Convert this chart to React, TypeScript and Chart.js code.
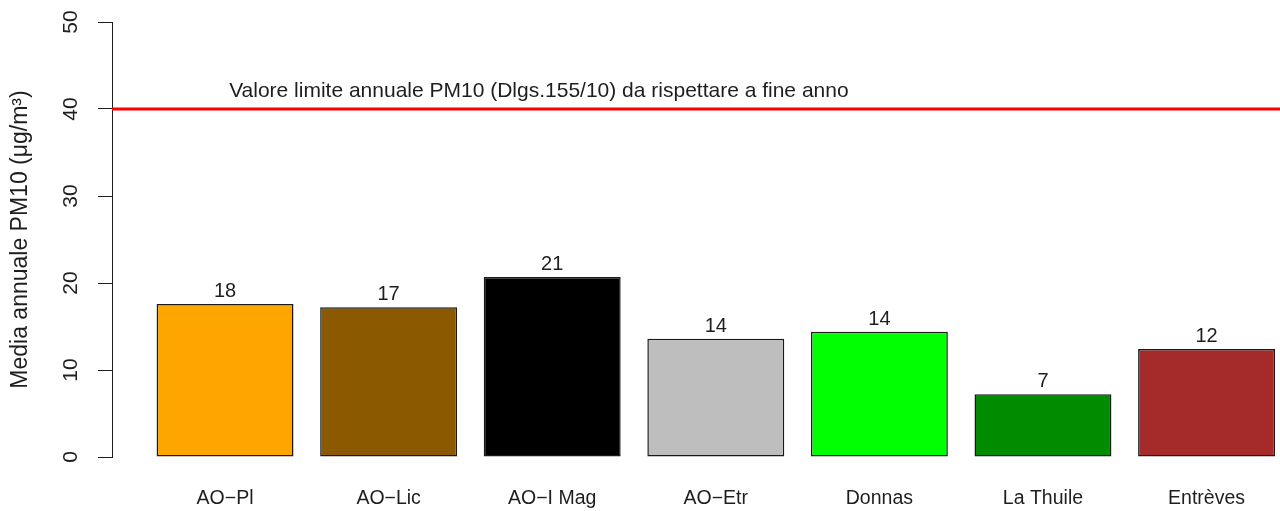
import React, { useEffect, useRef } from "react";
import { Chart, registerables } from "chart.js";

Chart.register(...registerables);

// ---- data ----
const categories = ["AO−Pl", "AO−Lic", "AO−I Mag", "AO−Etr", "Donnas", "La Thuile", "Entrèves"];
const values = [17.6, 17.2, 20.7, 13.6, 14.4, 7.2, 12.4];
const barColors = ["#FFA500", "#8B5A00", "#000000", "#BEBEBE", "#00FF00", "#008B00", "#A52A2A"];
const yTicks = [0, 10, 20, 30, 40, 50];
const limitValue = 40;
const limitLabel = "Valore limite annuale PM10 (Dlgs.155/10) da rispettare a fine anno";
const limitLabelX = 0.025;
const yTitle = "Media annuale PM10 (μg/m³)";

const FONT = '"Liberation Sans", Arial, Helvetica, sans-serif';
const TEXT = "#1e1e1e";

const overlayPlugin = {
  id: "overlay",
  afterDatasetsDraw(chart: any) {
    const { ctx, chartArea, scales } = chart;
    const x = scales.x;
    const y = scales.y;
    const meta = chart.getDatasetMeta(0);
    ctx.save();
    // value labels
    ctx.font = `20px ${FONT}`;
    ctx.fillStyle = TEXT;
    ctx.textAlign = "center";
    ctx.textBaseline = "alphabetic";
    meta.data.forEach((el: any, i: number) => {
      ctx.fillText(String(Math.round(values[i])), el.x, el.y - 7);
    });
    // limit line
    const py = y.getPixelForValue(limitValue);
    ctx.strokeStyle = "#FF0000";
    ctx.lineWidth = 3;
    ctx.beginPath();
    ctx.moveTo(chartArea.left, py);
    ctx.lineTo(chartArea.right, py);
    ctx.stroke();
    ctx.font = `21px ${FONT}`;
    ctx.textAlign = "left";
    ctx.fillText(limitLabel, x.getPixelForValue(limitLabelX), py - 12);
    ctx.restore();
  },
};

export default function App() {
  const canvasRef = useRef<HTMLCanvasElement | null>(null);

  useEffect(() => {
    if (!canvasRef.current) return;
    Chart.defaults.font.family = FONT;
    const chart = new Chart(canvasRef.current, {
      type: "bar",
      data: {
        datasets: [
          {
            data: categories.map((_, i) => ({ x: i, y: values[i] })),
            backgroundColor: barColors,
            borderColor: "#1a1a1a",
            borderWidth: 1.5,
            borderSkipped: false,
            barPercentage: 0.837,
            categoryPercentage: 1,
          },
        ],
      },
      options: {
        animation: false,
        responsive: true,
        maintainAspectRatio: false,
        layout: { padding: { top: 22, left: 0, right: 0, bottom: 0 } },
        plugins: {
          legend: { display: false },
          tooltip: { enabled: false },
        },
        scales: {
          x: {
            type: "linear",
            offset: false,
            min: -0.691,
            max: 6.449,
            grid: { display: false, drawTicks: false, offset: false },
            border: { display: false },
            ticks: {
              stepSize: 1,
              autoSkip: false,
              maxRotation: 0,
              minRotation: 0,
              includeBounds: false,
              padding: 30,
              color: TEXT,
              font: { size: 19.5, family: FONT },
              callback: (v: any) => {
                const n = Number(v);
                return Number.isInteger(n) && categories[n] !== undefined ? categories[n] : "";
              },
            },
            afterFit: (s: any) => {
              s.height = 54;
              s.paddingLeft = 0;
              s.paddingRight = 0;
            },
          },
          y: {
            type: "linear",
            min: 0,
            max: 50,
            grid: {
              display: true,
              drawOnChartArea: false,
              drawTicks: true,
              tickLength: 14,
              color: TEXT,
              lineWidth: 1,
            },
            border: { display: true, color: TEXT, width: 1 },
            afterBuildTicks: (s: any) => {
              s.ticks = yTicks.map((v) => ({ value: v }));
            },
            ticks: {
              minRotation: 90,
              maxRotation: 90,
              crossAlign: "center",
              padding: 15,
              color: TEXT,
              font: { size: 21, family: FONT },
              callback: (v: any) => String(v),
            },
            title: {
              display: true,
              text: yTitle,
              color: TEXT,
              font: { size: 23, family: FONT },
              padding: { top: 7, bottom: 0 },
            },
            afterFit: (s: any) => {
              s.width = 112;
              s.paddingTop = 0;
              s.paddingBottom = 0;
            },
          },
        },
      },
      plugins: [overlayPlugin],
    } as any);
    return () => chart.destroy();
  }, []);

  return (
    <div
      style={{
        position: "absolute",
        left: 0,
        top: 0,
        width: 1280,
        height: 511,
        background: "#ffffff",
      }}
    >
      <canvas ref={canvasRef} />
    </div>
  );
}
